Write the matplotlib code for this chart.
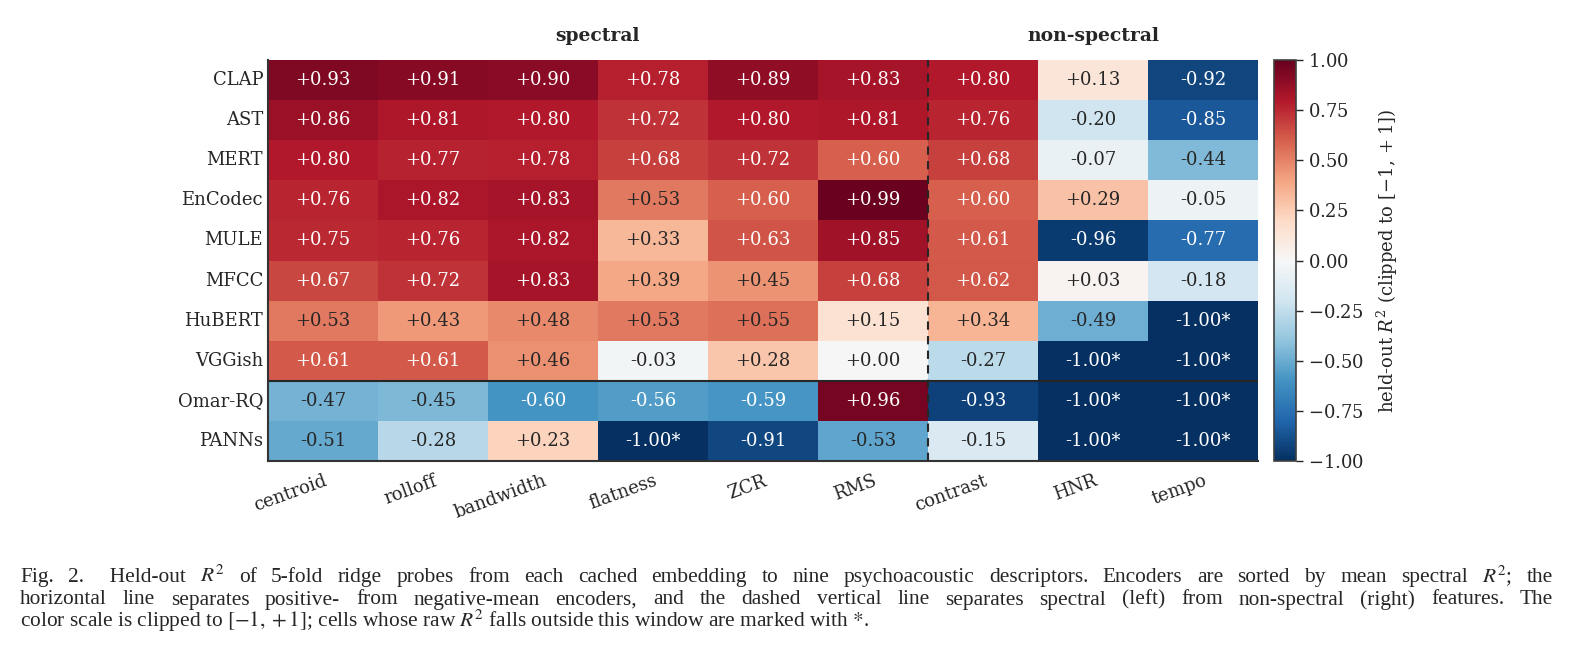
import numpy as np
import matplotlib
matplotlib.use("Agg")
import matplotlib.pyplot as plt
import seaborn as sns

encoders = ["CLAP", "AST", "MERT", "EnCodec", "MULE", "MFCC", "HuBERT", "VGGish", "Omar-RQ", "PANNs"]
features = ["centroid", "rolloff", "bandwidth", "flatness", "ZCR", "RMS", "contrast", "HNR", "tempo"]
n_spectral = 6
n_positive = 8

# clipped R^2 per encoder (rows) and feature (cols)
r2 = [
    [0.93, 0.91, 0.90, 0.78, 0.89, 0.83, 0.80, 0.13, -0.92],
    [0.86, 0.81, 0.80, 0.72, 0.80, 0.81, 0.76, -0.20, -0.85],
    [0.80, 0.77, 0.78, 0.68, 0.72, 0.60, 0.68, -0.07, -0.44],
    [0.76, 0.82, 0.83, 0.53, 0.60, 0.99, 0.60, 0.29, -0.05],
    [0.75, 0.76, 0.82, 0.33, 0.63, 0.85, 0.61, -0.96, -0.77],
    [0.67, 0.72, 0.83, 0.39, 0.45, 0.68, 0.62, 0.03, -0.18],
    [0.53, 0.43, 0.48, 0.53, 0.55, 0.15, 0.34, -0.49, -1.00],
    [0.61, 0.61, 0.46, -0.03, 0.28, 0.00, -0.27, -1.00, -1.00],
    [-0.47, -0.45, -0.60, -0.56, -0.59, 0.96, -0.93, -1.00, -1.00],
    [-0.51, -0.28, 0.23, -1.00, -0.91, -0.53, -0.15, -1.00, -1.00],
]
# cells whose raw R^2 fell below -1
outside = [
    [0, 0, 0, 0, 0, 0, 0, 0, 0],
    [0, 0, 0, 0, 0, 0, 0, 0, 0],
    [0, 0, 0, 0, 0, 0, 0, 0, 0],
    [0, 0, 0, 0, 0, 0, 0, 0, 0],
    [0, 0, 0, 0, 0, 0, 0, 0, 0],
    [0, 0, 0, 0, 0, 0, 0, 0, 0],
    [0, 0, 0, 0, 0, 0, 0, 0, 1],
    [0, 0, 0, 0, 0, 0, 0, 1, 1],
    [0, 0, 0, 0, 0, 0, 0, 1, 1],
    [0, 0, 0, 1, 0, 0, 0, 1, 1],
]

caption = [
    "Fig. 2.  Held-out $R^2$ of 5-fold ridge probes from each cached embedding to nine psychoacoustic descriptors. Encoders are sorted by mean spectral $R^2$; the",
    "horizontal line separates positive- from negative-mean encoders, and the dashed vertical line separates spectral (left) from non-spectral (right) features. The",
    "color scale is clipped to $[-1,+1]$; cells whose raw $R^2$ falls outside this window are marked with $*$.",
]

sns.set_style("white")
plt.rcParams["font.family"] = ["DejaVu Serif"]
plt.rcParams["mathtext.fontset"] = "dejavuserif"

vals = np.array(r2)

W, H = 1574, 660
fig = plt.figure(figsize=(W / 100, H / 100), dpi=100)
ax = fig.add_axes([268 / W, 1 - 461 / H, 990 / W, 401 / H])
cax = fig.add_axes([1274 / W, 1 - 461 / H, 22 / W, 401 / H])

sns.heatmap(vals, ax=ax, cbar_ax=cax, cmap="RdBu_r", vmin=-1, vmax=1,
            xticklabels=features, yticklabels=encoders)

for i, row in enumerate(r2):
    for j, v in enumerate(row):
        lab = f"{v:+.2f}" + ("*" if outside[i][j] else "")
        col = "white" if abs(v) > 0.555 else ".15"
        ax.text(j + 0.5, i + 0.5, lab, ha="center", va="center",
                fontsize=13, color=col)

ax.tick_params(length=0, labelsize=13, colors=".15")
ax.set_yticklabels(encoders, rotation=0)
ax.set_xticklabels(features, rotation=20, ha="right", rotation_mode="anchor")
for lab in ax.get_xticklabels():
    lab.set_y(-0.015)
for side in ["left", "bottom"]:
    ax.spines[side].set_visible(True)
    ax.spines[side].set_color(".2")
    ax.spines[side].set_linewidth(1.5)

ax.axhline(n_positive, color=".15", lw=1.5)
ax.axvline(n_spectral, color=".15", lw=1.5, ls=(0, (4, 3)))

ax.text(n_spectral / 2, -0.38, "spectral", ha="center", va="bottom",
        fontsize=13.5, fontweight="bold", color=".15")
ax.text(n_spectral + (len(features) - n_spectral) / 2, -0.38, "non-spectral",
        ha="center", va="bottom", fontsize=13.5, fontweight="bold", color=".15")

cbar = ax.collections[0].colorbar
cbar.set_ticks(np.linspace(-1, 1, 9))
cbar.ax.yaxis.set_major_formatter(matplotlib.ticker.FormatStrFormatter("$%.2f$"))
cbar.ax.tick_params(labelsize=13, length=5, width=1, colors=".15", direction="out")
cbar.outline.set_edgecolor(".25")
cbar.outline.set_linewidth(1.2)
cbar.set_label("held-out $R^2$ (clipped to $[-1,+1]$)", fontsize=13, color=".15", labelpad=8)

# justified caption
renderer = fig.canvas.get_renderer()
x0, x1 = 20, 1553
cap_fs = 15.4
for i, line in enumerate(caption):
    y = 1 - (582 + i * 22.5) / H
    if i == len(caption) - 1:
        fig.text(x0 / W, y, line, fontsize=cap_fs, family="Liberation Serif",
                 math_fontfamily="stix", va="baseline")
        continue
    words = line.replace("  ", " \u2002").split(" ")
    texts = [fig.text(0, y, w, fontsize=cap_fs, family="Liberation Serif",
                      math_fontfamily="stix", va="baseline") for w in words]
    widths = [t.get_window_extent(renderer).width for t in texts]
    gap = (x1 - x0 - sum(widths)) / (len(words) - 1)
    x = x0
    for t, w in zip(texts, widths):
        t.set_x(x / W)
        x += w + gap

fig.savefig("out.png", dpi=100)
